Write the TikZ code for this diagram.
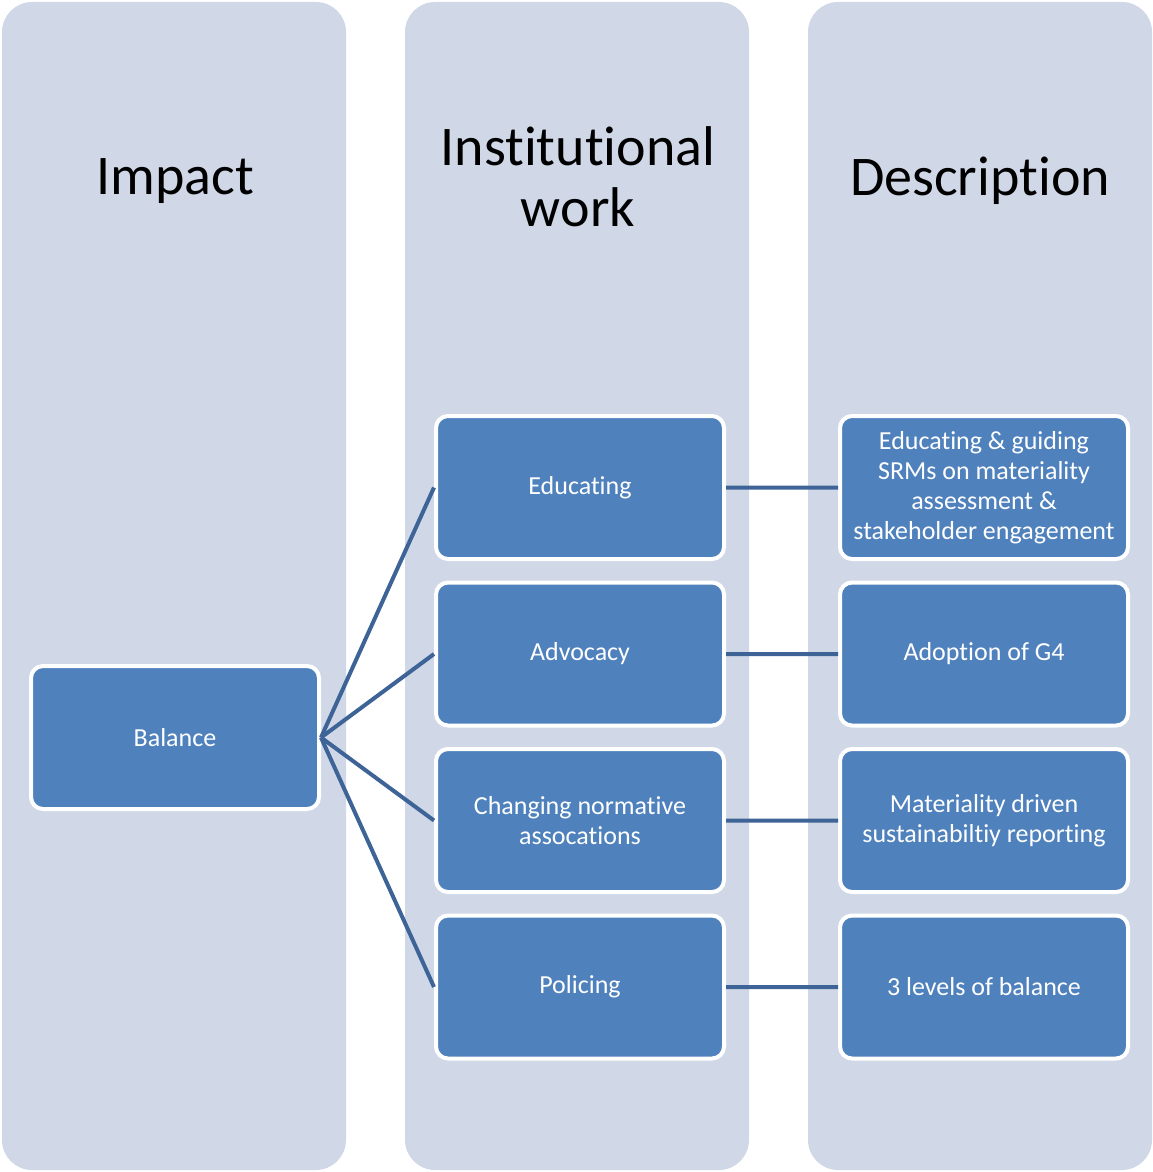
\documentclass[tikz,border=0pt]{standalone}
\usepackage{fontspec}
\setmainfont[Ligatures=NoCommon]{Carlito}
\usepackage{tikz}
\usetikzlibrary{positioning}
\definecolor{lane}{HTML}{D0D8E8}
\definecolor{boxblue}{HTML}{4F81BD}
\definecolor{linkblue}{HTML}{3E6497}

\begin{document}
\begin{tikzpicture}[x=1pt,y=1pt,semithick]
  \tikzstyle{every lane}=[fill=lane,rounded corners=30pt]
  \tikzstyle{item}=[draw=white,line width=4pt,fill=boxblue,rounded corners=12pt,
    minimum width=288pt,minimum height=143pt,align=center,
    text=white,font=\fontsize{26}{30}\selectfont]
  \tikzstyle{title}=[align=center,font=\fontsize{56}{61}\selectfont]
  \tikzstyle{link}=[draw=linkblue,line width=4pt]

  \useasboundingbox (0,0) rectangle (1153,-1172);
  \fill[every lane] (2,-2) rectangle (346,-1170);
  \fill[every lane] (405,-2) rectangle (749,-1170);
  \fill[every lane] (808,-2) rectangle (1152,-1170);

  \node[title] (TA) at (175,-181) {Impact};
  \node[title] (TB) at (578,-177) {Institutional\\work};
  \node[title] (TC) at (980,-181) {Description};

  \node[item] (BAL) at (175,-737.5)     {Balance};
  \node[item] (EDU) at (580,-487.5)     {Educating};
  \node[item] (ADV) [below=19.5pt of EDU] {Advocacy};
  \node[item] (CHA) [below=19.5pt of ADV] {Changing normative\\assocations};
  \node[item] (POL) [below=19.5pt of CHA] {Policing};
  \node[item] (EDUD)[right=112pt of EDU]  {Educating \& guiding\\SRMs on materiality\\assessment \&\\stakeholder engagement};
  \node[item] (ADVD)[right=112pt of ADV]  {Adoption of G4};
  \node[item] (CHAD)[right=112pt of CHA]  {Materiality driven\\sustainabiltiy reporting};
  \node[item] (POLD)[right=112pt of POL]  {3 levels of balance};

  \foreach \n in {EDU,ADV,CHA,POL}
    \path[link] (BAL.east) -- (\n.west)
                (\n.east) -- (\n D.west);
\end{tikzpicture}
\end{document}
